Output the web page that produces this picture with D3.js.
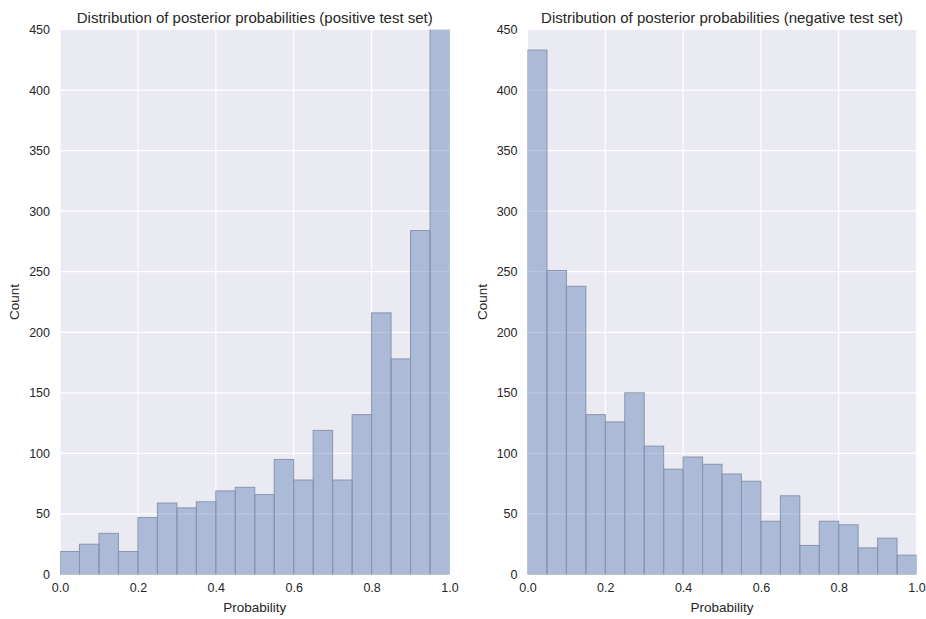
<!DOCTYPE html>
<html>
<head>
<meta charset="utf-8">
<script src="https://cdn.jsdelivr.net/npm/d3@7"></script>
<style>
  body { margin: 0; background: #fff; }
  svg text { font-family: "Liberation Sans", Arial, sans-serif; fill: #262626; }
</style>
</head>
<body>
<svg id="chart" width="926" height="619"></svg>
<script>
// 20 bins of width 0.05 from 0 to 1
const binEdges = d3.range(21).map(i => i / 20);
const positiveCounts = [19, 25, 34, 19, 47, 59, 55, 60, 69, 72, 66, 95, 78, 119, 78, 132, 216, 178, 284, 620];
const negativeCounts = [433, 251, 238, 132, 126, 150, 106, 87, 97, 91, 83, 77, 44, 65, 24, 44, 41, 22, 30, 16];
const xTicks = [0, 0.2, 0.4, 0.6, 0.8, 1.0];
const yTicks = d3.range(0, 451, 50);

const panels = [
  { title: "Distribution of posterior probabilities (positive test set)", counts: positiveCounts, left: 60, right: 449.5 },
  { title: "Distribution of posterior probabilities (negative test set)", counts: negativeCounts, left: 527.5, right: 916.5 }
];

const plotTop = 29.5, plotBottom = 574.5;
const svg = d3.select("#chart");

panels.forEach((p, k) => {
  const x = d3.scaleLinear().domain([0, 1]).range([p.left, p.right]);
  const y = d3.scaleLinear().domain([0, 450]).range([plotBottom, plotTop]);
  const g = svg.append("g");

  // background
  g.append("rect")
    .attr("x", p.left).attr("y", plotTop)
    .attr("width", p.right - p.left).attr("height", plotBottom - plotTop)
    .attr("fill", "#EAEAF2");

  // grid lines
  g.selectAll(".vgrid").data(xTicks).enter().append("line")
    .attr("x1", d => x(d)).attr("x2", d => x(d))
    .attr("y1", plotTop).attr("y2", plotBottom)
    .attr("stroke", "#fff").attr("stroke-width", 1.2);
  g.selectAll(".hgrid").data(yTicks).enter().append("line")
    .attr("x1", p.left).attr("x2", p.right)
    .attr("y1", d => y(d)).attr("y2", d => y(d))
    .attr("stroke", "#fff").attr("stroke-width", 1.2);

  // clip to axes
  const clipId = "clip" + k;
  svg.append("clipPath").attr("id", clipId)
    .append("rect")
    .attr("x", p.left).attr("y", plotTop)
    .attr("width", p.right - p.left).attr("height", plotBottom - plotTop);

  // bars
  g.append("g").attr("clip-path", `url(#${clipId})`)
    .selectAll("rect").data(p.counts).enter().append("rect")
    .attr("x", (d, i) => x(binEdges[i]))
    .attr("width", (d, i) => x(binEdges[i + 1]) - x(binEdges[i]))
    .attr("y", d => y(d))
    .attr("height", d => plotBottom - y(d))
    .attr("fill", "#4C72B0").attr("fill-opacity", 0.4)
    .attr("stroke", "#8A95AE").attr("stroke-width", 1);

  // x axis tick labels
  const xAxis = d3.axisBottom(x).tickValues(xTicks).tickFormat(d3.format(".1f")).tickSize(0).tickPadding(9);
  const xg = g.append("g").attr("transform", `translate(0,${plotBottom})`).call(xAxis);
  xg.select(".domain").remove();
  xg.selectAll("text").style("font-size", "12.5px").attr("fill", "#262626");

  // y axis tick labels
  const yAxis = d3.axisLeft(y).tickValues(yTicks).tickSize(0).tickPadding(10);
  const yg = g.append("g").attr("transform", `translate(${p.left},0)`).call(yAxis);
  yg.select(".domain").remove();
  yg.selectAll("text").style("font-size", "12.5px").attr("fill", "#262626");

  // title
  g.append("text")
    .attr("x", (p.left + p.right) / 2).attr("y", 23)
    .attr("text-anchor", "middle")
    .style("font-size", "15px")
    .text(p.title);

  // axis labels
  g.append("text")
    .attr("x", (p.left + p.right) / 2).attr("y", 612)
    .attr("text-anchor", "middle")
    .style("font-size", "13.5px")
    .text("Probability");

  g.append("text")
    .attr("transform", `translate(${p.left - 41},${(plotTop + plotBottom) / 2}) rotate(-90)`)
    .attr("text-anchor", "middle")
    .style("font-size", "13.5px")
    .text("Count");
});
</script>
</body>
</html>
